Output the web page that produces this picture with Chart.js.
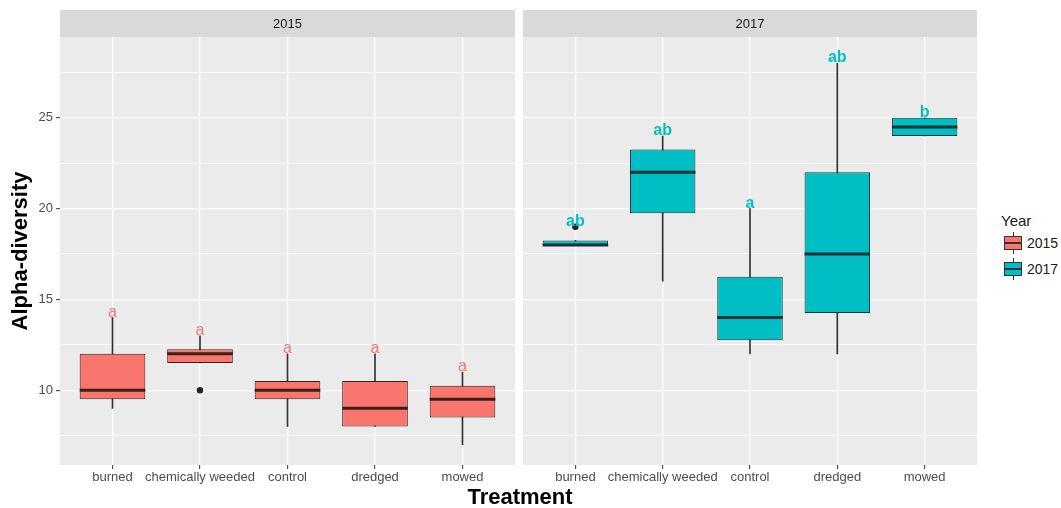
<!DOCTYPE html>
<html>
<head>
<meta charset="utf-8">
<script src="https://cdn.jsdelivr.net/npm/chart.js@4.4.1/dist/chart.umd.min.js"></script>
<style>
  body { margin: 0; background: #fff; font-family: "Liberation Sans", Arial, sans-serif; }
  #page { position: relative; width: 1061px; height: 508px; overflow: hidden; }
  #wrap2015 { position: absolute; left: 0; top: 0; width: 515px; height: 508px; }
  #wrap2017 { position: absolute; left: 523px; top: 0; width: 454px; height: 508px; }
  #xtitle { position: absolute; left: 0; width: 1040px; top: 484px; text-align: center; font-weight: bold; font-size: 22px; line-height: 26px; color: #000; }
  #legend { position: absolute; left: 1001px; top: 212px; color: #1a1a1a; }
  #legend .ttl { font-size: 15px; line-height: 18px; }
  #legend .row { position: relative; height: 26px; }
  #legend .key { position: absolute; left: 3px; top: 2px; width: 18px; height: 22px; }
  #legend .key i { position: absolute; display: block; }
  #legend .wh { left: 8.5px; top: 0; width: 1px; height: 22px; background: #333; }
  #legend .bx { left: 0; top: 4px; width: 16px; height: 12px; border: 1px solid #333; }
  #legend .md { left: 0; top: 10px; width: 18px; height: 2px; background: #333; }
  #legend .lab { position: absolute; left: 26px; top: 4px; font-size: 14px; line-height: 18px; }
</style>
</head>
<body>
<div id="page">
  <div id="wrap2015"><canvas id="chart2015"></canvas></div>
  <div id="wrap2017"><canvas id="chart2017"></canvas></div>
  <div id="xtitle">Treatment</div>
  <div id="legend">
    <div class="ttl">Year</div>
    <div class="row"><div class="key"><i class="wh"></i><i class="bx" style="background:#F8766D"></i><i class="md"></i></div><span class="lab">2015</span></div>
    <div class="row"><div class="key"><i class="wh"></i><i class="bx" style="background:#00BFC4"></i><i class="md"></i></div><span class="lab">2017</span></div>
  </div>
</div>
<script>
// categories and box stats
const categories = ['burned', 'chemically weeded', 'control', 'dredged', 'mowed'];
const years = ['2015', '2017'];
const yearColors = ['#F8766D', '#00BFC4'];
const darkColors = ['#3b1f1b', '#1b3235'];

const low2015 = [9, 11.5, 8, 8, 7];
const q1_2015 = [9.5, 11.5, 9.5, 8, 8.5];
const median2015 = [10, 12, 10, 9, 9.5];
const q3_2015 = [12, 12.25, 10.5, 10.5, 10.25];
const high2015 = [14, 13, 12, 12, 11];
const outliers2015 = [[], [10], [], [], []];
const letters2015 = ['a', 'a', 'a', 'a', 'a'];

const low2017 = [18, 16, 12, 12, 24];
const q1_2017 = [18, 19.75, 12.75, 14.25, 24];
const median2017 = [18, 22, 14, 17.5, 24.5];
const q3_2017 = [18.25, 23.25, 16.25, 22, 25];
const high2017 = [18.25, 24, 20, 28, 25];
const outliers2017 = [[19], [], [], [], []];
const letters2017 = ['ab', 'ab', 'a', 'ab', 'b'];

const yMajor = [10, 15, 20, 25];
const yMinor = [7.5, 12.5, 17.5, 22.5, 27.5];
const yMin = 5.88;
const yMax = 29.45;

Chart.defaults.font.family = '"Liberation Sans", Arial, sans-serif';

function makeFacet(canvasId, k, low, q1, med, q3, high, outliers, letters, showY) {
    const fill = yearColors[k];
    const dark = darkColors[k];

    const facetPlugin = {
        id: 'facet' + k,
        beforeDraw(chart) {
            const { ctx, chartArea } = chart;
            ctx.save();
            ctx.fillStyle = '#EBEBEB';
            ctx.fillRect(chartArea.left, chartArea.top, chartArea.right - chartArea.left, chartArea.bottom - chartArea.top);
            ctx.fillStyle = '#D9D9D9';
            ctx.fillRect(chartArea.left, 10, chartArea.right - chartArea.left, chartArea.top - 10);
            ctx.fillStyle = '#1A1A1A';
            ctx.font = '13px "Liberation Sans", Arial, sans-serif';
            ctx.textAlign = 'center';
            ctx.textBaseline = 'middle';
            ctx.fillText(years[k], (chartArea.left + chartArea.right) / 2, (10 + chartArea.top) / 2 + 0.5);
            ctx.restore();
        },
        afterDatasetsDraw(chart) {
            const { ctx } = chart;
            const y = chart.scales.y;
            const boxes = chart.getDatasetMeta(1).data;
            ctx.save();
            // medians
            ctx.strokeStyle = dark;
            ctx.lineWidth = 3;
            boxes.forEach((el, i) => {
                const py = y.getPixelForValue(med[i]);
                ctx.beginPath();
                ctx.moveTo(el.x - el.width / 2, py);
                ctx.lineTo(el.x + el.width / 2, py);
                ctx.stroke();
            });
            // significance letters
            ctx.fillStyle = fill;
            ctx.font = (k === 1 ? 'bold ' : '') + '16px "Liberation Sans", Arial, sans-serif';
            ctx.textAlign = 'center';
            ctx.textBaseline = 'alphabetic';
            boxes.forEach((el, i) => {
                const top = Math.max(high[i], ...outliers[i]);
                ctx.fillText(letters[i], el.x, y.getPixelForValue(top) - 1);
            });
            ctx.restore();
        }
    };

    const outlierPoints = [];
    outliers.forEach((arr, i) => arr.forEach(v => outlierPoints.push({ x: i, y: v })));

    return new Chart(document.getElementById(canvasId), {
        type: 'bar',
        data: {
            datasets: [
                {
                    label: 'whiskers',
                    data: categories.map((c, i) => ({ x: i, y: [low[i], high[i]] })),
                    backgroundColor: '#333333',
                    barThickness: 1,
                    grouped: false,
                    order: 3
                },
                {
                    label: years[k],
                    data: categories.map((c, i) => ({ x: i, y: [q1[i], q3[i]] })),
                    backgroundColor: fill,
                    borderColor: dark,
                    borderWidth: 1,
                    borderSkipped: false,
                    barPercentage: 0.75,
                    categoryPercentage: 1,
                    grouped: false,
                    order: 2
                },
                {
                    type: 'scatter',
                    label: 'outliers',
                    data: outlierPoints,
                    pointRadius: 3.2,
                    pointHoverRadius: 3.2,
                    pointBackgroundColor: '#222222',
                    pointBorderWidth: 0,
                    order: 1
                }
            ]
        },
        options: {
            responsive: true,
            maintainAspectRatio: false,
            animation: false,
            layout: { autoPadding: false, padding: { top: 37, left: 0, right: 0, bottom: 0 } },
            plugins: { legend: { display: false }, tooltip: { enabled: false } },
            scales: {
                x: {
                    type: 'linear',
                    min: -0.6,
                    max: categories.length - 0.4,
                    offset: false,
                    afterBuildTicks: (s) => { s.ticks = categories.map((c, i) => ({ value: i })); },
                    afterFit: (s) => { s.height = 43; },
                    ticks: {
                        callback: (v) => categories[v],
                        color: '#4D4D4D',
                        font: { size: 13 },
                        padding: 1,
                        maxRotation: 0,
                        autoSkip: false
                    },
                    grid: { color: '#FFFFFF', lineWidth: 1.3, offset: false, drawTicks: true, tickLength: 4, tickColor: '#333333', tickWidth: 1 },
                    border: { display: false }
                },
                y: {
                    min: yMin,
                    max: yMax,
                    afterBuildTicks: (s) => {
                        s.ticks = yMinor.concat(yMajor).sort((a, b) => a - b).map(v => ({ value: v }));
                    },
                    afterFit: (s) => { s.width = showY ? 60 : 0; },
                    ticks: {
                        display: showY,
                        callback: (v) => yMajor.includes(v) ? String(v) : '',
                        color: '#4D4D4D',
                        font: { size: 13 },
                        padding: 3
                    },
                    grid: {
                        color: '#FFFFFF',
                        lineWidth: (c) => yMajor.includes(c.tick.value) ? 1.3 : 0.7,
                        drawTicks: showY,
                        tickLength: 4,
                        tickWidth: 1,
                        tickColor: (c) => yMajor.includes(c.tick.value) ? '#333333' : 'rgba(0,0,0,0)'
                    },
                    border: { display: false },
                    title: {
                        display: showY,
                        text: 'Alpha-diversity',
                        color: '#000000',
                        font: { size: 22, weight: 'bold' },
                        padding: { top: 8, bottom: 0 }
                    }
                }
            }
        },
        plugins: [facetPlugin]
    });
}

makeFacet('chart2015', 0, low2015, q1_2015, median2015, q3_2015, high2015, outliers2015, letters2015, true);
makeFacet('chart2017', 1, low2017, q1_2017, median2017, q3_2017, high2017, outliers2017, letters2017, false);
</script>
</body>
</html>
